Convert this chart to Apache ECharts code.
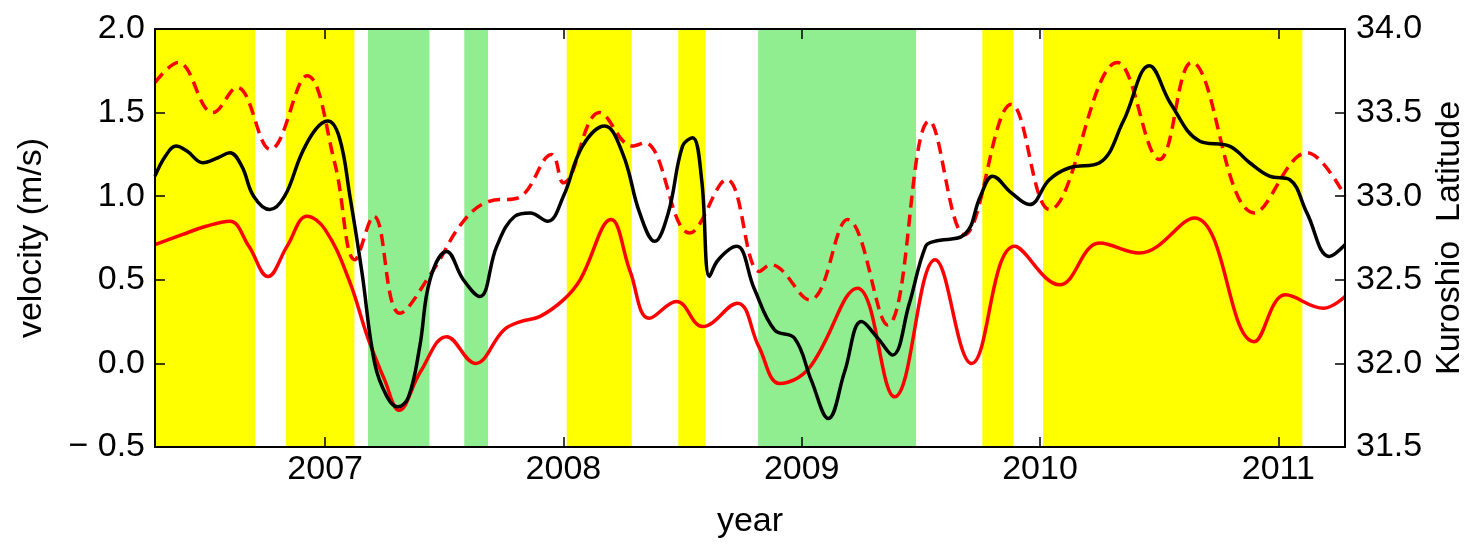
<!DOCTYPE html>
<html>
<head>
<meta charset="utf-8">
<script src="https://cdn.jsdelivr.net/npm/echarts@6/dist/echarts.min.js"></script>
<style>
  html, body { margin: 0; padding: 0; background: #fff; }
  #chart { width: 1484px; height: 548px; }
</style>
</head>
<body>
<div id="chart"></div>
<script>
// x range (decimal years) and tick labels
const xMin = 2006.286;
const xMax = 2011.28;
const yearTicks = [2007, 2008, 2009, 2010, 2011];

// shaded periods [start, end] in decimal years
const yellowBands = [
  [2006.286, 2006.706], [2006.836, 2007.123], [2008.014, 2008.287],
  [2008.482, 2008.597], [2009.758, 2009.889], [2010.013, 2011.101]
];
const greenBands = [
  [2007.180, 2007.438], [2007.584, 2007.684], [2008.817, 2009.480]
];

// black solid: velocity (m/s), [year, value]
const velocityBlack = [
  [2006.286, 1.12], [2006.33, 1.24], [2006.374, 1.30], [2006.42, 1.27],
  [2006.487, 1.20], [2006.55, 1.23], [2006.60, 1.26], [2006.65, 1.18],
  [2006.70, 1.00], [2006.768, 0.92], [2006.83, 1.00], [2006.90, 1.25],
  [2006.96, 1.40], [2007.011, 1.45], [2007.06, 1.35], [2007.104, 1.00],
  [2007.154, 0.55], [2007.208, 0.00], [2007.26, -0.20], [2007.305, -0.26],
  [2007.35, -0.20], [2007.397, 0.10], [2007.44, 0.50], [2007.51, 0.67],
  [2007.58, 0.50], [2007.649, 0.40], [2007.72, 0.70], [2007.796, 0.88],
  [2007.86, 0.90], [2007.934, 0.85], [2008.00, 1.00], [2008.08, 1.30],
  [2008.173, 1.42], [2008.25, 1.25], [2008.32, 0.90], [2008.383, 0.73],
  [2008.44, 0.90], [2008.50, 1.30], [2008.542, 1.35], [2008.58, 1.10],
  [2008.613, 0.52], [2008.65, 0.62], [2008.727, 0.70], [2008.80, 0.45],
  [2008.886, 0.20], [2008.97, 0.15], [2009.04, -0.10], [2009.112, -0.33],
  [2009.18, -0.05], [2009.251, 0.25], [2009.32, 0.15], [2009.381, 0.05],
  [2009.45, 0.35], [2009.52, 0.70], [2009.557, 0.73], [2009.683, 0.77],
  [2009.75, 1.00], [2009.801, 1.12], [2009.88, 1.02], [2009.956, 0.95],
  [2010.04, 1.10], [2010.124, 1.17], [2010.25, 1.20], [2010.35, 1.45],
  [2010.459, 1.78], [2010.55, 1.55], [2010.669, 1.33], [2010.795, 1.30],
  [2010.88, 1.20], [2010.963, 1.12], [2011.047, 1.10], [2011.12, 0.90],
  [2011.214, 0.64], [2011.28, 0.71]
];

// red solid: velocity (m/s), [year, value]
const velocityRed = [
  [2006.286, 0.71], [2006.40, 0.77], [2006.50, 0.82], [2006.60, 0.85],
  [2006.68, 0.70], [2006.76, 0.52], [2006.84, 0.70], [2006.924, 0.88],
  [2007.00, 0.80], [2007.10, 0.50], [2007.18, 0.15], [2007.25, -0.10],
  [2007.31, -0.28], [2007.40, -0.05], [2007.51, 0.16], [2007.63, 0.00],
  [2007.75, 0.20], [2007.82, 0.25], [2007.90, 0.28], [2008.00, 0.38],
  [2008.07, 0.50], [2008.20, 0.86], [2008.28, 0.55], [2008.36, 0.27],
  [2008.475, 0.37], [2008.584, 0.22], [2008.73, 0.36], [2008.82, 0.10],
  [2008.908, -0.12], [2009.03, -0.03], [2009.234, 0.45], [2009.39, -0.20],
  [2009.56, 0.62], [2009.713, 0.00], [2009.893, 0.70], [2010.082, 0.47],
  [2010.25, 0.72], [2010.417, 0.66], [2010.648, 0.87], [2010.899, 0.13],
  [2011.03, 0.41], [2011.19, 0.33], [2011.28, 0.40]
];

// red dashed: Kuroshio latitude, [year, value]
const kuroshioLat = [
  [2006.286, 33.68], [2006.383, 33.80], [2006.529, 33.50], [2006.63, 33.65],
  [2006.77, 33.28], [2006.924, 33.72], [2007.04, 33.20], [2007.125, 32.62],
  [2007.204, 32.88], [2007.313, 32.30], [2007.45, 32.55], [2007.58, 32.85],
  [2007.69, 32.97], [2007.81, 32.99], [2007.951, 33.25], [2008.00, 33.08],
  [2008.152, 33.50], [2008.29, 33.30], [2008.341, 33.32], [2008.53, 32.78],
  [2008.685, 33.10], [2008.823, 32.55], [2008.87, 32.59], [2009.033, 32.38],
  [2009.193, 32.86], [2009.36, 32.23], [2009.536, 33.45], [2009.683, 32.77],
  [2009.88, 33.55], [2010.04, 32.92], [2010.325, 33.80], [2010.501, 33.22],
  [2010.636, 33.80], [2010.90, 32.90], [2011.12, 33.26], [2011.28, 33.00]
];

const font = "'Liberation Sans', Arial, sans-serif";
const fontSize = 34;

function bandsToAreas(bands, color) {
  return bands.map(b => [
    { xAxis: b[0], itemStyle: { color: color } },
    { xAxis: b[1] }
  ]);
}

const chart = echarts.init(document.getElementById('chart'), null, { renderer: 'canvas' });

const xAxisCommon = {
  type: 'value',
  min: xMin,
  max: xMax,
  z: 10,
  splitLine: { show: false },
  axisLine: { onZero: false, lineStyle: { color: '#000', width: 2 } },
  axisTick: {
    inside: true, length: 10,
    customValues: yearTicks,
    lineStyle: { color: '#000', width: 1.5 }
  }
};

const option = {
  animation: false,
  backgroundColor: '#fff',
  textStyle: { fontFamily: font },
  grid: { left: 155, right: 139, top: 29, bottom: 101, containLabel: false },
  xAxis: [
    Object.assign({}, xAxisCommon, {
      position: 'bottom',
      name: 'year',
      nameLocation: 'middle',
      nameGap: 58,
      nameTextStyle: { color: '#000', fontSize: fontSize, fontFamily: font },
      axisLabel: {
        customValues: yearTicks,
        color: '#000', fontSize: fontSize, fontFamily: font, margin: 6,
        formatter: v => String(v)
      }
    }),
    Object.assign({}, xAxisCommon, {
      position: 'top',
      axisLabel: { show: false }
    })
  ],
  yAxis: [
    {
      type: 'value', position: 'left', min: -0.5, max: 2.0, interval: 0.5, z: 10,
      name: 'velocity (m/s)', nameLocation: 'middle', nameRotate: 90, nameGap: 106,
      nameTextStyle: { color: '#000', fontSize: fontSize, fontFamily: font },
      splitLine: { show: false },
      axisLine: { onZero: false, lineStyle: { color: '#000', width: 2 } },
      axisTick: { inside: true, length: 10, lineStyle: { color: '#000', width: 1.5 } },
      axisLabel: {
        color: '#000', fontSize: fontSize, fontFamily: font, margin: 10,
        formatter: v => (v < 0 ? '\u2212 ' + Math.abs(v).toFixed(1) : v.toFixed(1))
      }
    },
    {
      type: 'value', position: 'right', min: 31.5, max: 34.0, interval: 0.5, z: 10,
      name: 'Kuroshio  Latitude', nameLocation: 'middle', nameRotate: 90, nameGap: 88,
      nameTextStyle: { color: '#000', fontSize: fontSize, fontFamily: font },
      splitLine: { show: false },
      axisLine: { onZero: false, lineStyle: { color: '#000', width: 2 } },
      axisTick: { inside: true, length: 10, lineStyle: { color: '#000', width: 1.5 } },
      axisLabel: {
        color: '#000', fontSize: fontSize, fontFamily: font, margin: 11,
        formatter: v => v.toFixed(1)
      }
    }
  ],
  series: [
    {
      // shaded periods only
      type: 'line',
      data: [],
      silent: true,
      markArea: {
        silent: true,
        data: bandsToAreas(yellowBands, '#ffff00').concat(bandsToAreas(greenBands, '#90ee90'))
      }
    },
    {
      type: 'line',
      yAxisIndex: 1,
      data: kuroshioLat,
      smooth: 0.4,
      showSymbol: false,
      lineStyle: { color: '#ff0000', width: 3.5, type: [12, 7] }
    },
    {
      type: 'line',
      yAxisIndex: 0,
      data: velocityRed,
      smooth: 0.4,
      showSymbol: false,
      lineStyle: { color: '#ff0000', width: 3.5 }
    },
    {
      type: 'line',
      yAxisIndex: 0,
      data: velocityBlack,
      smooth: 0.4,
      showSymbol: false,
      lineStyle: { color: '#000', width: 3.5 }
    }
  ]
};

chart.setOption(option);
</script>
</body>
</html>
